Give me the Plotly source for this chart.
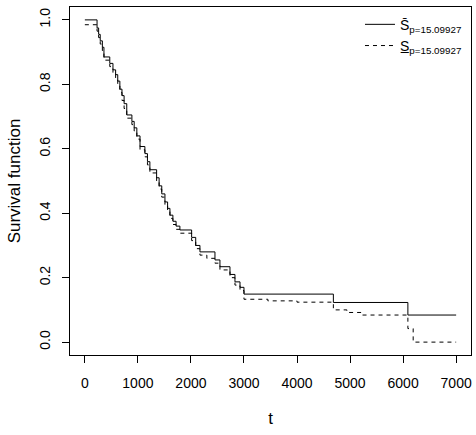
import plotly.graph_objects as go

# Upper estimator (solid) step function: time of each step and survival after it
t_upper = [0, 230, 260, 290, 330, 360, 470, 530, 580, 620, 660, 700, 740, 790, 887, 930, 980,
           1040, 1132, 1180, 1226, 1353, 1400, 1450, 1510, 1560, 1604, 1660, 1720, 1792,
           2013, 2090, 2170, 2453, 2547, 2736, 2830, 2925, 3000, 4685, 6090, 7000]
s_upper = [1.0, 0.975, 0.955, 0.935, 0.915, 0.885, 0.865, 0.845, 0.83, 0.81, 0.785, 0.765, 0.74,
           0.705, 0.685, 0.665, 0.64, 0.607, 0.585, 0.56, 0.535, 0.51, 0.485, 0.46, 0.435, 0.415,
           0.394, 0.375, 0.36, 0.348, 0.325, 0.30, 0.28, 0.255, 0.234, 0.21, 0.187, 0.17, 0.149,
           0.123, 0.084, 0.084]

# Lower estimator (dashed)
t_lower = [0, 230, 260, 290, 330, 360, 470, 530, 580, 620, 660, 700, 740, 790, 887, 930, 980,
           1040, 1132, 1180, 1226, 1353, 1400, 1450, 1510, 1560, 1604, 1660, 1720, 1792,
           2013, 2090, 2170, 2300, 2453, 2547, 2736, 2830, 2925, 3000, 3450, 4000, 4685,
           4940, 5230, 6090, 6190, 7000]
s_lower = [0.985, 0.965, 0.945, 0.925, 0.905, 0.875, 0.855, 0.835, 0.815, 0.795, 0.775, 0.75,
           0.725, 0.695, 0.675, 0.655, 0.63, 0.597, 0.575, 0.55, 0.525, 0.50, 0.475, 0.45, 0.425,
           0.405, 0.384, 0.365, 0.35, 0.338, 0.315, 0.29, 0.27, 0.26, 0.245, 0.224, 0.20, 0.177,
           0.16, 0.133, 0.128, 0.124, 0.10, 0.092, 0.084, 0.042, 0.0, 0.0]

x_ticks = [0, 1000, 2000, 3000, 4000, 5000, 6000, 7000]
y_ticks = [0.0, 0.2, 0.4, 0.6, 0.8, 1.0]
y_ticklabels = ["0.0", "0.2", "0.4", "0.6", "0.8", "1.0"]

label_upper = "S\u0304<sub>p=15.09927</sub>"
label_lower = "S\u0332<sub>p=15.09927</sub>"

font = "Liberation Sans, Arial, sans-serif"

fig = go.Figure()
fig.add_trace(go.Scatter(x=t_upper, y=s_upper, mode="lines", line_shape="hv",
                         line=dict(color="black", width=1), name=label_upper))
fig.add_trace(go.Scatter(x=t_lower, y=s_lower, mode="lines", line_shape="hv",
                         line=dict(color="black", width=1, dash="4px,4px"), name=label_lower))

fig.update_layout(
    width=476, height=435,
    margin=dict(l=70, r=5, t=7, b=80),
    plot_bgcolor="white", paper_bgcolor="white",
    font=dict(family=font, size=14, color="black"),
    showlegend=True,
    legend=dict(x=0.99, y=0.995, xanchor="right", yanchor="top",
                bgcolor="rgba(0,0,0,0)", borderwidth=0,
                font=dict(size=14), tracegroupgap=0),
    xaxis=dict(range=[-280, 7280], tickvals=x_ticks, ticks="outside", ticklen=7,
               tickcolor="black", showline=True, mirror=True, linecolor="black", linewidth=1,
               showgrid=False, zeroline=False, ticklabelstandoff=8,
               title=dict(text="t", standoff=22)),
    yaxis=dict(range=[-0.04, 1.04], tickvals=y_ticks, ticktext=y_ticklabels, ticks="outside",
               ticklen=7, tickcolor="black", showline=True, mirror=True, linecolor="black",
               linewidth=1, showgrid=False, zeroline=False, tickangle=-90,
               ticklabelstandoff=6,
               title=dict(text="Survival function", standoff=12)),
)

fig.write_html("out.html")
